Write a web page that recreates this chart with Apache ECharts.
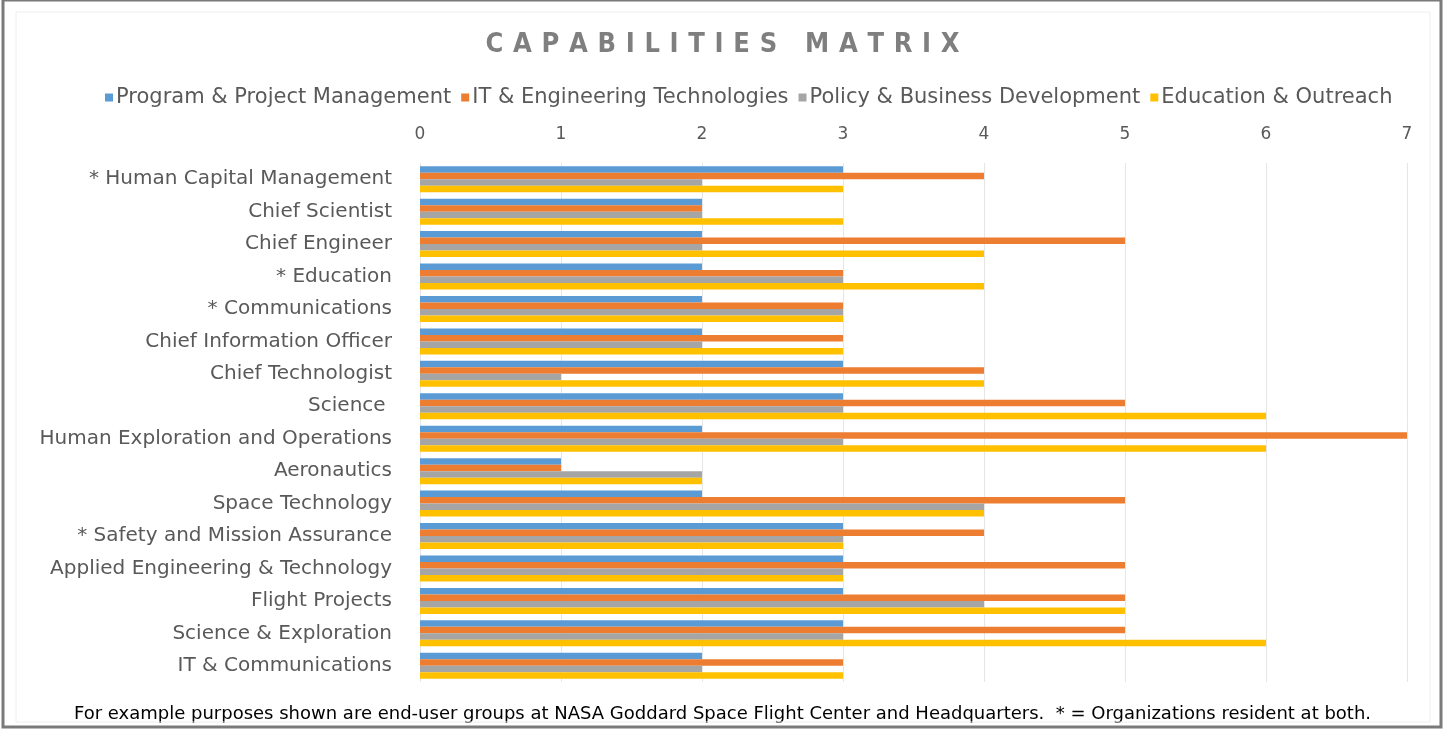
<!DOCTYPE html>
<html><head><meta charset="utf-8">
<script src="https://cdn.jsdelivr.net/npm/echarts@6/dist/echarts.min.js"></script>
<style>html,body{margin:0;padding:0;background:#fff;}#c{width:1445px;height:730px;}</style>
</head><body><div id="c"></div>
<script>
const categories = ["* Human Capital Management","Chief Scientist","Chief Engineer","* Education","* Communications","Chief Information Officer","Chief Technologist","Science ","Human Exploration and Operations","Aeronautics","Space Technology","* Safety and Mission Assurance","Applied Engineering & Technology","Flight Projects","Science & Exploration","IT & Communications"];
const seriesNames = ["Program & Project Management","IT & Engineering Technologies","Policy & Business Development","Education & Outreach"];
const programMgmt = [3,2,2,2,2,2,3,3,2,1,2,3,3,3,3,2];
const itEngineering = [4,2,5,3,3,3,4,5,7,1,5,4,5,5,5,3];
const policyBusiness = [2,2,2,3,3,2,1,3,3,2,4,3,3,4,3,2];
const educationOutreach = [3,3,4,4,3,3,4,6,6,2,4,3,3,5,6,3];
const xTicks = [0,1,2,3,4,5,6,7];
const colors = ["#5B9BD5","#ED7D31","#A5A5A5","#FFC000"];
const titleText = "CAPABILITIES MATRIX";
const footnote = "For example purposes shown are end-user groups at NASA Goddard Space Flight Center and Headquarters.  * = Organizations resident at both.";

const chart = echarts.init(document.getElementById('c'));
const font = "DejaVu Sans";
const dataSets = [programMgmt, itEngineering, policyBusiness, educationOutreach];
chart.setOption({
  animation:false,
  textStyle:{fontFamily:font},
  title:{text:titleText.split('').join('\u2009\u2009'),left:'center',top:26,
    textStyle:{fontFamily:'DejaVu Sans Condensed',fontSize:27,fontWeight:'bold',color:'#7f7f7f'}},
  legend:{top:82,left:100,itemWidth:8,itemHeight:8,itemGap:10,icon:'rect',
    textStyle:{fontFamily:font,fontSize:21,color:'#595959',padding:[0,0,0,-2]},
    data:seriesNames},
  grid:{left:420,right:38,top:163,bottom:48,containLabel:false},
  xAxis:{type:'value',position:'top',min:0,max:7,interval:1,
    axisLine:{show:false},axisTick:{show:false},
    axisLabel:{fontFamily:font,fontSize:17,color:'#595959',margin:20,formatter:v=>xTicks.includes(v)?String(v):''},
    splitLine:{lineStyle:{color:'#e6e6e6'}}},
  yAxis:{type:'category',data:categories,inverse:true,
    axisLine:{show:false},axisTick:{show:false},
    axisLabel:{fontFamily:font,fontSize:20,color:'#595959',margin:28}},
  series:seriesNames.map((n,i)=>({name:n,type:'bar',data:dataSets[i],
    itemStyle:{color:colors[i]},barGap:'0%',barCategoryGap:'20%'})),
  graphic:[
    {type:'text',left:'center',top:705,style:{text:footnote,font:"18px 'DejaVu Sans'",fill:'#000'}},
    {type:'rect',shape:{x:3,y:0,width:1438,height:727},style:{fill:'none',stroke:'#7a7a7a',lineWidth:3},silent:true},
    {type:'rect',shape:{x:16,y:12,width:1414,height:710},style:{fill:'none',stroke:'#eeeeee',lineWidth:1},silent:true}
  ]
});
</script></body></html>
